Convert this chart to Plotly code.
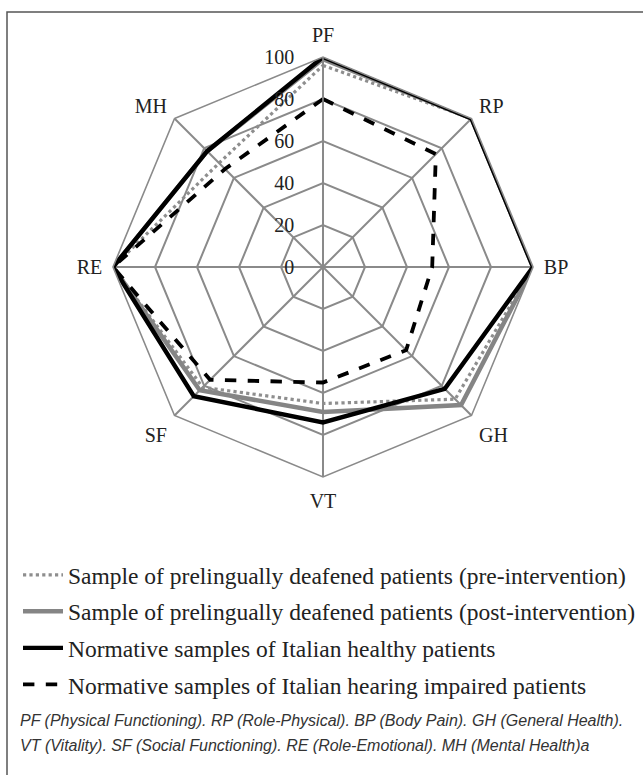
import plotly.graph_objects as go

categories = ["PF", "RP", "BP", "GH", "VT", "SF", "RE", "MH"]
pre_intervention = [96, 100, 100, 89, 65, 81, 100, 70]
post_intervention = [99, 100, 100, 93, 69, 83, 100, 78]
healthy_norm = [100, 100, 100, 82, 74, 87, 100, 78]
impaired_norm = [80, 76, 52, 56, 55, 76, 100, 66]
radial_ticks = [0, 20, 40, 60, 80, 100]

series_names = [
    "Sample of prelingually deafened patients (pre-intervention)",
    "Sample of prelingually deafened patients (post-intervention)",
    "Normative samples of Italian healthy patients",
    "Normative samples of Italian hearing impaired patients",
]
series_values = [pre_intervention, post_intervention, healthy_norm, impaired_norm]
series_styles = [
    dict(color="#8e8e8e", width=3.2, dash="dot"),
    dict(color="#858585", width=4.5, dash="solid"),
    dict(color="#000000", width=4.4, dash="solid"),
    dict(color="#000000", width=3.8, dash="dash"),
]

fig = go.Figure()
for i, (name, vals, style) in enumerate(zip(series_names, series_values, series_styles)):
    fig.add_trace(go.Scatterpolar(
        r=vals + vals[:1],
        theta=categories + categories[:1],
        mode="lines",
        name=name,
        line=style,
        legendgroup=f"g{i}",
    ))

W, H = 643, 775
cx, cy, rad = 323, 267, 210
serif = "Liberation Serif, Times New Roman, serif"
fig.update_layout(
    width=W, height=H,
    margin=dict(l=0, r=0, t=0, b=0),
    paper_bgcolor="white",
    plot_bgcolor="white",
    font=dict(family=serif, color="#222222"),
    polar=dict(
        domain=dict(x=[(cx - rad) / W, (cx + rad) / W],
                    y=[1 - (cy + rad) / H, 1 - (cy - rad) / H]),
        gridshape="linear",
        bgcolor="white",
        radialaxis=dict(
            range=[0, 100],
            tickvals=radial_ticks,
            ticktext=[str(t) for t in radial_ticks],
            angle=90,
            side="counterclockwise",
            tickangle=90,
            showline=True,
            linecolor="#8a8a8a",
            linewidth=1.6,
            gridcolor="#8a8a8a",
            gridwidth=1.6,
            ticks="outside",
            ticklen=21,
            tickcolor="rgba(0,0,0,0)",
            tickfont=dict(size=20, color="#222222", family=serif),
        ),
        angularaxis=dict(
            direction="clockwise",
            rotation=90,
            showline=True,
            linecolor="#8a8a8a",
            linewidth=1.6,
            gridcolor="#8a8a8a",
            gridwidth=1.6,
            ticks="outside",
            ticklen=6,
            tickcolor="rgba(0,0,0,0)",
            tickfont=dict(size=20, color="#222222", family=serif),
        ),
    ),
    showlegend=True,
    legend=dict(
        x=18 / W, y=1 - 553 / H, xanchor="left", yanchor="top",
        font=dict(size=23.5, family=serif, color="#222222"),
        bgcolor="rgba(0,0,0,0)",
        tracegroupgap=3,
        itemwidth=40,
    ),
    shapes=[dict(type="rect", xref="paper", yref="paper",
                 x0=7 / W, x1=1.02, y0=-0.02, y1=1 - 12 / H,
                 line=dict(color="#555555", width=1.5))],
    annotations=[
        dict(text="<i>PF (Physical Functioning). RP (Role-Physical). BP (Body Pain). GH (General Health).</i>",
             x=18 / W, y=1 - 720 / H, xref="paper", yref="paper", xanchor="left", yanchor="middle",
             showarrow=False,
             font=dict(size=16, family="Liberation Sans Narrow, Liberation Sans, Arial, sans-serif", color="#333333")),
        dict(text="<i>VT (Vitality). SF (Social Functioning). RE (Role-Emotional). MH (Mental Health)a</i>",
             x=18 / W, y=1 - 745 / H, xref="paper", yref="paper", xanchor="left", yanchor="middle",
             showarrow=False,
             font=dict(size=16, family="Liberation Sans Narrow, Liberation Sans, Arial, sans-serif", color="#333333")),
    ],
)

fig.write_html("out.html", config={"displayModeBar": False},
               post_script="document.body.style.margin='0';")
